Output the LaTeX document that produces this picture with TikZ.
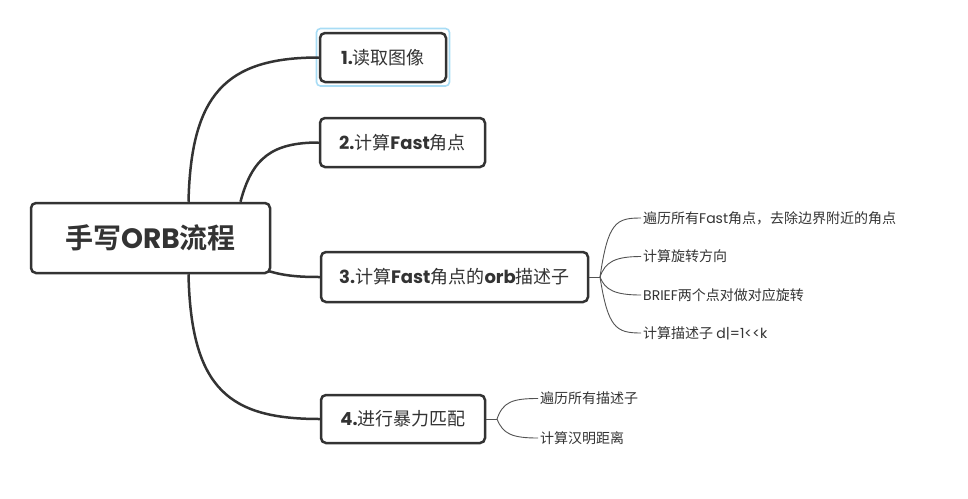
\documentclass[tikz,border=0pt]{standalone}
\usepackage{fontspec}
\setmainfont{Noto Sans CJK SC}[BoldFont={Noto Sans CJK SC Bold}]
\newfontfamily\lat{Poppins}
\definecolor{dk}{HTML}{333333}
\definecolor{sel}{HTML}{A8DCF5}
\tikzset{
  topic/.style={draw=dk, line width=2.5pt, rounded corners=5pt, fill=white, text=dk, inner sep=0pt, font=\fontsize{18}{20}\selectfont},
  branch/.style={draw=dk, line width=2.5pt},
  twig/.style={draw=dk!85, line width=0.9pt},
  leaf/.style={anchor=west, inner sep=2pt, text=dk, font=\fontsize{14}{16}\selectfont},
}
\begin{document}
\begin{tikzpicture}[x=1pt,y=-1pt]
\useasboundingbox (0,0) rectangle (968,498);
% selection glow
\draw[sel, line width=1.6pt, rounded corners=4pt] (316.5,28.5) rectangle (449.5,86);
% nodes
\node[topic, minimum width=239, minimum height=70, font=\fontsize{28}{30}\selectfont\bfseries] (root) at (150.5,238) {手写{\lat ORB}流程};
\node[topic, minimum width=126, minimum height=49] (n1) at (383,57.5) {{\lat\bfseries 1.}读取图像};
\node[topic, minimum width=165, minimum height=49] (n2) at (402.5,142.5) {{\lat\bfseries 2.}计算{\lat\bfseries Fast}角点};
\node[topic, minimum width=267, minimum height=50] (n3) at (454.5,277) {{\lat\bfseries 3.}计算{\lat\bfseries Fast}角点的{\lat\bfseries orb}描述子};
\node[topic, minimum width=164, minimum height=48] (n4) at (403,419) {{\lat\bfseries 4.}进行暴力匹配};
% root branches
\draw[branch] ([xshift=38pt]root.north) .. controls (191,95) and (225,57.5) .. (n1.west);
\draw[branch] ([xshift=90pt]root.north) .. controls (252,158) and (272,142.5) .. (n2.west);
\draw[branch] ([xshift=-2pt,yshift=3pt]root.south east) .. controls (285,276) and (300,277) .. (n3.west);
\draw[branch] ([xshift=38pt]root.south) .. controls (191,390) and (230,419) .. (n4.west);
% leaves of n3
\coordinate (j3) at (600,277);
\node[leaf] (a1) at (641,218) {遍历所有{\lat Fast}角点，去除边界附近的角点};
\node[leaf] (a2) at (641,256.5) {计算旋转方向};
\node[leaf] (a3) at (641,295) {{\lat BRIEF}两个点对做对应旋转};
\node[leaf] (a4) at (641,333) {计算描述子 {\lat d|=1<<k}};
\draw[twig] (n3.east) -- (j3);
\draw[twig] (j3) .. controls (608,222) and (616,218) .. (a1.west);
\draw[twig] (j3) .. controls (605,262) and (615,256.5) .. (a2.west);
\draw[twig] (j3) .. controls (605,290) and (615,295) .. (a3.west);
\draw[twig] (j3) .. controls (608,328) and (616,333) .. (a4.west);
% leaves of n4
\coordinate (j4) at (497,419);
\node[leaf] (b1) at (538,398.5) {遍历所有描述子};
\node[leaf] (b2) at (538,438) {计算汉明距离};
\draw[twig] (n4.east) -- (j4);
\draw[twig] (j4) .. controls (503,402) and (512,398.5) .. (b1.west);
\draw[twig] (j4) .. controls (503,434) and (512,438) .. (b2.west);
\end{tikzpicture}
\end{document}
